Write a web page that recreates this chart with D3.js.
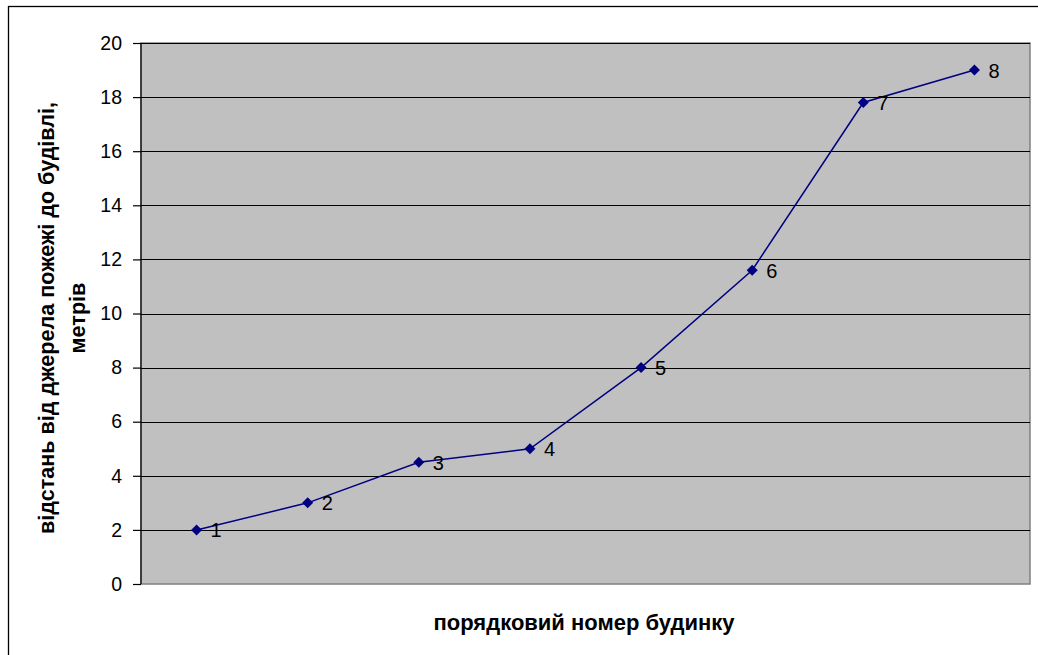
<!DOCTYPE html>
<html><head><meta charset="utf-8">
<script src="https://cdn.jsdelivr.net/npm/d3@7"></script>
<style>body{margin:0;background:#fff;}svg{display:block;font-family:"Liberation Sans",Arial,sans-serif;}</style>
</head><body>
<svg id="c" width="1038" height="655"></svg>
<script>
const categories = ["1","2","3","4","5","6","7","8"];
const values = [2, 3, 4.5, 5, 8, 11.6, 17.8, 19];
const yTicks = [0,2,4,6,8,10,12,14,16,18,20];
const xTitle = "порядковий номер будинку";
const yTitle = ["відстань від джерела пожежі до будівлі,", "метрів"];

const svg = d3.select("#c");
const L = 141, R = 1030, T = 43, B = 584;
svg.append("rect").attr("x",8.5).attr("y",6.5).attr("width",1040).attr("height",660)
  .attr("fill","#fff").attr("stroke","#000").attr("stroke-width",1.3);

const x = d3.scaleBand().domain(categories).range([L,R]);
const y = d3.scaleLinear().domain([0,20]).range([B,T]);

svg.append("rect").attr("x",L).attr("y",T).attr("width",R-L).attr("height",B-T)
  .attr("fill","#c0c0c0").attr("stroke","#808080").attr("stroke-width",1.5);

svg.append("g").selectAll("line").data(yTicks.filter(d=>d>0)).join("line")
  .attr("x1",L).attr("x2",R).attr("y1",d=>Math.round(y(d))+0.5).attr("y2",d=>Math.round(y(d))+0.5)
  .attr("stroke","#000").attr("stroke-width",1.2);

const ax = svg.append("g").attr("transform",`translate(${L},0)`)
  .call(d3.axisLeft(y).tickValues(yTicks).tickSize(8).tickPadding(11).tickFormat(d3.format("d")));
ax.select(".domain").attr("stroke","#000").attr("stroke-width",1.2).attr("d",`M0,${T}V${B}`);
ax.selectAll(".tick line").attr("stroke","#000").attr("stroke-width",1.2);
ax.selectAll(".tick text").attr("font-size",19.5).attr("fill","#000").attr("font-family","Liberation Sans, Arial, sans-serif");

const cx = d => x(d) + x.bandwidth()/2;
const data = categories.map((c,i)=>({c, v: values[i]}));
svg.append("path").datum(data)
  .attr("d", d3.line().x(d=>cx(d.c)).y(d=>y(d.v)))
  .attr("fill","none").attr("stroke","#000080").attr("stroke-width",1.5);

svg.append("g").selectAll("path").data(data).join("path")
  .attr("transform", d=>`translate(${cx(d.c)},${y(d.v)})`)
  .attr("d","M0,-5.5L5.5,0L0,5.5L-5.5,0Z").attr("fill","#000080");

svg.append("g").selectAll("text").data(data).join("text")
  .attr("x", d=>cx(d.c)+14).attr("y", d=>y(d.v)+7.5)
  .attr("font-size",20).attr("fill","#000").text(d=>d.c);

svg.append("text").attr("x",584).attr("y",630).attr("text-anchor","middle")
  .attr("font-size",22).attr("font-weight","bold").text(xTitle);

const yt = svg.append("text").attr("transform",`translate(0,318) rotate(-90)`)
  .attr("text-anchor","middle").attr("font-size",21.6).attr("font-weight","bold");
yt.append("tspan").attr("x",0).attr("y",54).text(yTitle[0]);
yt.append("tspan").attr("x",0).attr("y",85).text(yTitle[1]);
</script>
</body></html>
